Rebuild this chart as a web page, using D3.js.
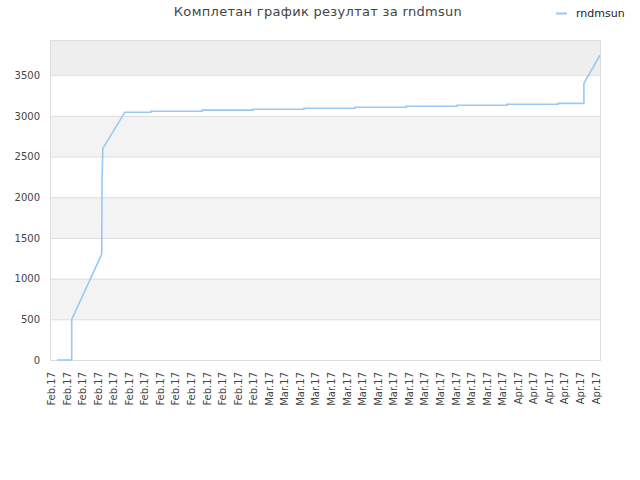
<!DOCTYPE html>
<html><head><meta charset="utf-8">
<script src="https://cdn.jsdelivr.net/npm/d3@7"></script>
<style>
html,body{margin:0;padding:0;background:#fff;}
svg{display:block;font-family:"DejaVu Sans",sans-serif;}
</style></head>
<body>
<svg id="chart" width="640" height="480"></svg>
<script>
const title = "Комплетан график резултат за rndmsun";
const seriesName = "rndmsun";
const dates = [
  "2017-02-01T19:00","2017-02-03T16:00","2017-02-03T16:00","2017-02-07T12:30",
  "2017-02-07T13:30","2017-02-07T16:00","2017-02-10T12:00","2017-02-13T20:00",
  "2017-02-13T20:00","2017-02-20T10:00","2017-02-20T10:00","2017-02-26T23:00",
  "2017-02-26T23:00","2017-03-05T12:30","2017-03-05T12:30","2017-03-12T02:00",
  "2017-03-12T02:00","2017-03-18T15:00","2017-03-18T15:00","2017-03-25T04:30",
  "2017-03-25T04:30","2017-03-31T14:30","2017-03-31T14:30","2017-04-07T04:00",
  "2017-04-07T04:00","2017-04-10T12:00","2017-04-10T12:00","2017-04-12T13:40"
];
const values = [
  0,0,500,1300,
  2210,2600,3045,3045,
  3057,3057,3070,3070,
  3082,3082,3094,3094,
  3106,3106,3118,3118,
  3130,3130,3142,3142,
  3154,3154,3400,3745
];
const xDomain = ["2017-01-31T21:00","2017-04-12T13:40"];
const tickRange = ["2017-02-01T00:00","2017-04-13T00:00"];
const yTicks = [0,500,1000,1500,2000,2500,3000,3500];

const parse = d3.timeParse("%Y-%m-%dT%H:%M");
const data = dates.map((d,i)=>({date:parse(d), value:values[i]}));

const svg = d3.select("#chart");
const m = {left:50, right:40, top:40, bottom:120};
const W = 640 - m.left - m.right, H = 480 - m.top - m.bottom;
const g = svg.append("g").attr("transform",`translate(${m.left},${m.top})`);

const x = d3.scaleTime().domain(xDomain.map(parse)).range([0,W]);
const yMax = d3.max(values)*1.05;
const y = d3.scaleLinear().domain([0,yMax]).range([H,0]);

// bands
const bandEdges = yTicks.concat([yMax]);
for (let i=0;i<bandEdges.length-1;i++){
  if (i%2===1){
    g.append("rect").attr("x",0).attr("width",W)
     .attr("y",y(bandEdges[i+1])).attr("height",y(bandEdges[i])-y(bandEdges[i+1]))
     .attr("fill", i===bandEdges.length-2 ? "#eeeeee" : "#f3f3f3");
  }
}
// grid
g.append("g").selectAll("line").data(yTicks.slice(1)).join("line")
  .attr("x1",0).attr("x2",W).attr("y1",d=>y(d)+0.5).attr("y2",d=>y(d)+0.5)
  .attr("stroke","#dddddd");
// border
g.append("rect").attr("x",0.5).attr("y",0.5).attr("width",W).attr("height",H)
  .attr("fill","none").attr("stroke","#dddddd");

// y axis
const yAxis = g.append("g").call(d3.axisLeft(y).tickValues(yTicks).tickFormat(d3.format("d")).tickSize(0).tickPadding(10));
yAxis.select(".domain").remove();
yAxis.selectAll("text").attr("font-size",10).attr("fill","#444").attr("font-family","DejaVu Sans");

// x axis
const ticks = d3.timeDay.range(parse(tickRange[0]), parse(tickRange[1]), 2);
const fmt = d3.timeFormat("%b.%y");
const xAxis = g.append("g").attr("transform",`translate(0,${H})`)
  .call(d3.axisBottom(x).tickValues(ticks).tickFormat(fmt).tickSize(0).tickPadding(0));
xAxis.select(".domain").remove();
xAxis.selectAll("text")
  .attr("font-size",10).attr("fill","#444").attr("font-family","DejaVu Sans")
  .attr("text-anchor","end")
  .attr("transform","rotate(-90)")
  .attr("x",-12).attr("y",0).attr("dy","0.35em");

// line
g.append("path").datum(data)
  .attr("fill","none").attr("stroke","#99c8f4").attr("stroke-width",1.6)
  .attr("d", d3.line().x(d=>x(d.date)).y(d=>y(d.value)));

// title
svg.append("text").attr("x",318).attr("y",16).attr("text-anchor","middle")
  .attr("font-size",13).attr("fill","#444").attr("letter-spacing","0.3")
  .text(title);
// legend
svg.append("line").attr("x1",556).attr("x2",567).attr("y1",13.5).attr("y2",13.5)
  .attr("stroke","#99c8f4").attr("stroke-width",2);
svg.append("text").attr("x",576).attr("y",17).attr("font-size",11).attr("fill","#222")
  .text(seriesName);
</script>
</body></html>
